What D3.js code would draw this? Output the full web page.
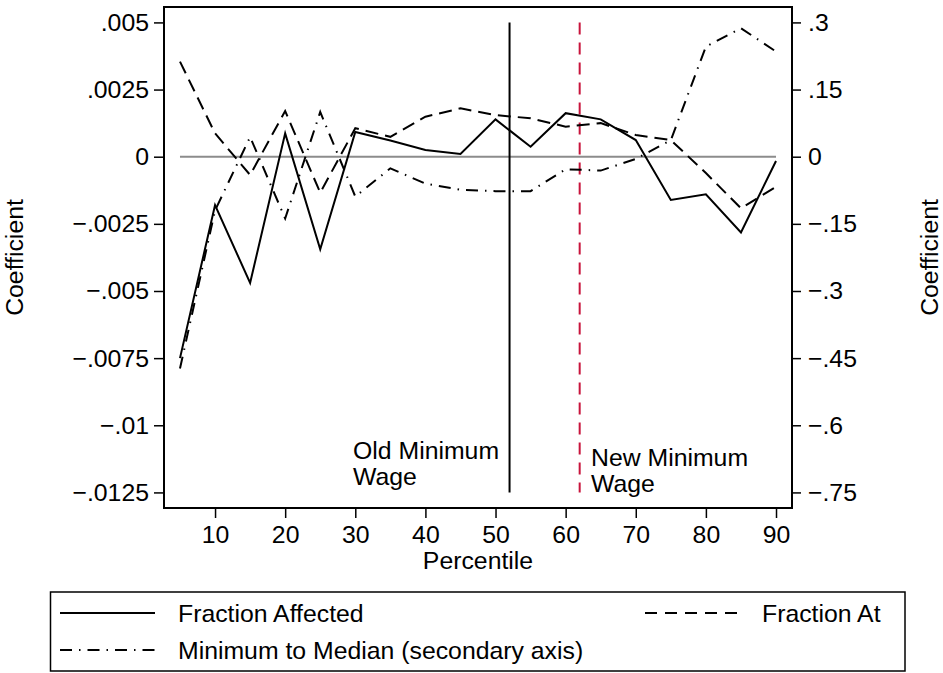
<!DOCTYPE html>
<html>
<head>
<meta charset="utf-8">
<script src="https://cdn.jsdelivr.net/npm/d3@7"></script>
<style>
  body { margin: 0; background: #fff; }
  svg text { font-family: "Liberation Sans", Arial, sans-serif; fill: #000; }
</style>
</head>
<body>
<div id="chart"></div>
<script>
// percentiles on the x axis
var percentiles = [5, 10, 15, 20, 25, 30, 35, 40, 45, 50, 55, 60, 65, 70, 75, 80, 85, 90];

// primary axis series
var fractionAffected = [-0.0075, -0.0018, -0.0047, 0.00087, -0.00345, 0.00092, 0.0006, 0.00025, 0.0001,
  0.00139, 0.00037, 0.00162, 0.00139, 0.00062, -0.00161, -0.0014, -0.00282, -0.00016];
var fractionAt = [0.00354, 0.00087, -0.00068, 0.0017, -0.00134, 0.00106, 0.00074, 0.00149, 0.0018,
  0.00155, 0.00143, 0.00112, 0.00125, 0.00081, 0.00062, -0.00061, -0.00192, -0.00112];

// secondary axis series
var minToMedian = [-0.473, -0.12, 0.044, -0.138, 0.1, -0.089, -0.026, -0.06, -0.074,
  -0.077, -0.077, -0.028, -0.031, -0.005, 0.037, 0.246, 0.287, 0.235];

// reference lines
var oldMinWage = 52;
var newMinWage = 62;

// ticks
var xTicks = [10, 20, 30, 40, 50, 60, 70, 80, 90];
var leftTicks = [0.005, 0.0025, 0, -0.0025, -0.005, -0.0075, -0.01, -0.0125];
var leftTickLabels = [".005", ".0025", "0", "\u2212.0025", "\u2212.005", "\u2212.0075", "\u2212.01", "\u2212.0125"];
var rightTicks = [0.3, 0.15, 0, -0.15, -0.3, -0.45, -0.6, -0.75];
var rightTickLabels = [".3", ".15", "0", "\u2212.15", "\u2212.3", "\u2212.45", "\u2212.6", "\u2212.75"];

var legendLabels = ["Fraction Affected", "Fraction At", "Minimum to Median (secondary axis)"];

const width = 943, height = 673;
const plot = {left: 164, right: 792, top: 7, bottom: 508};
const fontSize = "24.8px";

const svg = d3.select("#chart").append("svg")
  .attr("width", width)
  .attr("height", height);

const x = d3.scaleLinear().domain([2.72, 92.28]).range([plot.left, plot.right]);
const y = d3.scaleLinear().domain([-0.01308, 0.005574]).range([plot.bottom, plot.top]);
// secondary axis is the primary times 60
const y2 = d3.scaleLinear().domain([-0.01308 * 60, 0.005574 * 60]).range([plot.bottom, plot.top]);

// zero line
svg.append("line")
  .attr("x1", x(5)).attr("x2", x(90))
  .attr("y1", y(0)).attr("y2", y(0))
  .attr("stroke", "#8c8c8c").attr("stroke-width", 2);

// vertical reference lines
svg.append("line")
  .attr("x1", x(oldMinWage)).attr("x2", x(oldMinWage))
  .attr("y1", y(0.005)).attr("y2", y(-0.0125))
  .attr("stroke", "#000").attr("stroke-width", 2);

svg.append("line")
  .attr("x1", x(newMinWage)).attr("x2", x(newMinWage))
  .attr("y1", y(0.005)).attr("y2", y(-0.0125))
  .attr("stroke", "#c8143c").attr("stroke-width", 2)
  .attr("stroke-dasharray", "12,8");

// annotations
function twoLines(xpos, ypos, lines) {
  const t = svg.append("text").attr("x", xpos).attr("y", ypos).style("font-size", fontSize);
  lines.forEach(function(s, i) {
    t.append("tspan").attr("x", xpos).attr("dy", i === 0 ? 0 : 26).text(s);
  });
}
twoLines(353, 459, ["Old Minimum", "Wage"]);
twoLines(591, 466, ["New Minimum", "Wage"]);

// series
const line1 = d3.line().x(function(d, i) { return x(percentiles[i]); }).y(function(d) { return y(d); });
const line2 = d3.line().x(function(d, i) { return x(percentiles[i]); }).y(function(d) { return y2(d); });

svg.append("path").datum(fractionAt)
  .attr("d", line1).attr("fill", "none")
  .attr("stroke", "#000").attr("stroke-width", 2)
  .attr("stroke-dasharray", "13,7");

svg.append("path").datum(minToMedian)
  .attr("d", line2).attr("fill", "none")
  .attr("stroke", "#000").attr("stroke-width", 2)
  .attr("stroke-dasharray", "12,7,1.5,7");

svg.append("path").datum(fractionAffected)
  .attr("d", line1).attr("fill", "none")
  .attr("stroke", "#000").attr("stroke-width", 2)
  .attr("stroke-linejoin", "miter");

// frame
svg.append("rect")
  .attr("x", plot.left).attr("y", plot.top)
  .attr("width", plot.right - plot.left).attr("height", plot.bottom - plot.top)
  .attr("fill", "none").attr("stroke", "#000").attr("stroke-width", 2);

// axes
const xAxis = svg.append("g")
  .attr("transform", "translate(0," + plot.bottom + ")")
  .call(d3.axisBottom(x).tickValues(xTicks).tickSize(10).tickPadding(7));

const yAxis = svg.append("g")
  .attr("transform", "translate(" + plot.left + ",0)")
  .call(d3.axisLeft(y).tickValues(leftTicks).tickSize(10).tickPadding(5)
    .tickFormat(function(d, i) { return leftTickLabels[i]; }));

const y2Axis = svg.append("g")
  .attr("transform", "translate(" + plot.right + ",0)")
  .call(d3.axisRight(y2).tickValues(rightTicks).tickSize(9).tickPadding(7)
    .tickFormat(function(d, i) { return rightTickLabels[i]; }));

[xAxis, yAxis, y2Axis].forEach(function(g) {
  g.select(".domain").remove();
  g.selectAll(".tick line").attr("stroke", "#000").attr("stroke-width", 1.5);
  g.selectAll(".tick text")
    .style("font-family", "'Liberation Sans', Arial, sans-serif")
    .style("font-size", fontSize).attr("fill", "#000");
});

// axis titles
svg.append("text")
  .attr("x", (plot.left + plot.right) / 2).attr("y", 569)
  .attr("text-anchor", "middle").style("font-size", fontSize)
  .text("Percentile");

svg.append("text")
  .attr("transform", "translate(23," + (plot.top + plot.bottom) / 2 + ") rotate(-90)")
  .attr("text-anchor", "middle").style("font-size", fontSize)
  .text("Coefficient");

svg.append("text")
  .attr("transform", "translate(938," + (plot.top + plot.bottom) / 2 + ") rotate(-90)")
  .attr("text-anchor", "middle").style("font-size", fontSize)
  .text("Coefficient");

// legend
svg.append("rect")
  .attr("x", 50.5).attr("y", 592)
  .attr("width", 854.5).attr("height", 79)
  .attr("fill", "none").attr("stroke", "#000").attr("stroke-width", 1.5);

var legendItems = [
  {sx: 60, tx: 178, y: 613, dash: null, label: legendLabels[0]},
  {sx: 645, tx: 762, y: 613, dash: "12,8", label: legendLabels[1]},
  {sx: 60, tx: 178, y: 650, dash: "12,7,1.5,7", label: legendLabels[2]}
];

legendItems.forEach(function(it) {
  svg.append("line")
    .attr("x1", it.sx).attr("x2", it.sx + 95)
    .attr("y1", it.y).attr("y2", it.y)
    .attr("stroke", "#000").attr("stroke-width", 2)
    .attr("stroke-dasharray", it.dash);
  svg.append("text")
    .attr("x", it.tx).attr("y", it.y + 9)
    .style("font-size", fontSize)
    .text(it.label);
});
</script>
</body>
</html>
